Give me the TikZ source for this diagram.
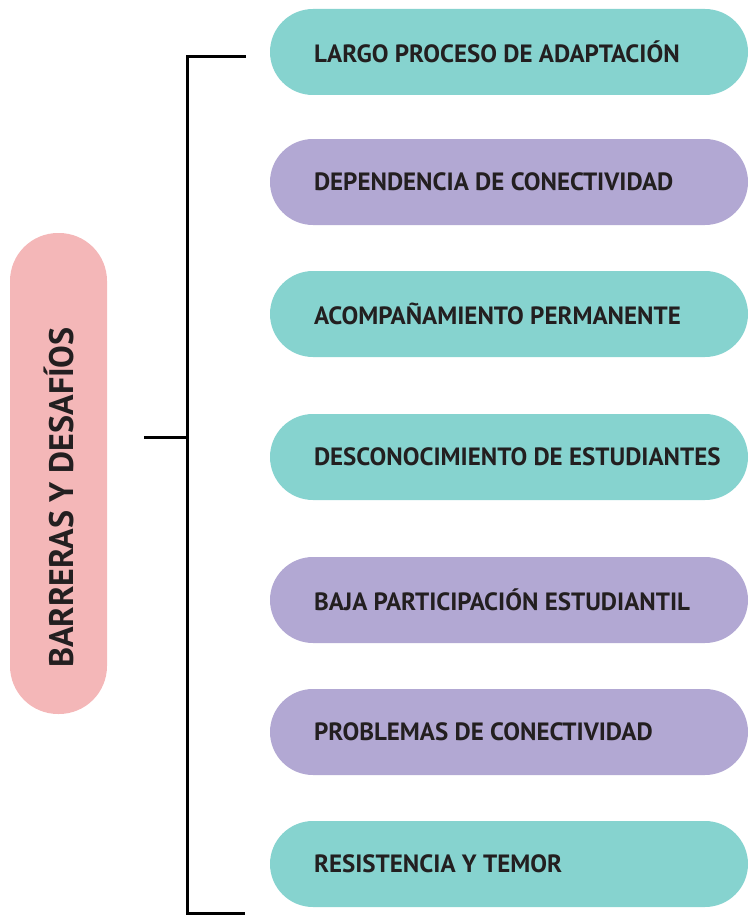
\documentclass[tikz,border=0pt]{standalone}
\usepackage{fontspec}
\setmainfont{PT Sans}
\usetikzlibrary{positioning}
\definecolor{teal1}{HTML}{86D3CF}
\definecolor{lila}{HTML}{B2A8D3}
\definecolor{rosa}{HTML}{F4B7B8}
\definecolor{tinta}{HTML}{231F20}

\begin{document}
\begin{tikzpicture}
[
    x=1pt, y=-1pt,
    pill/.style={fill=#1, draw=none, minimum width=478pt, minimum height=86pt, rounded corners=43pt, inner sep=0pt},
    itemtext/.style={anchor=west, text=tinta, font=\bfseries\fontsize{25}{28}\selectfont, inner sep=0pt},
    bracket/.style={line width=3pt, draw=black},
]
\useasboundingbox (0,0) rectangle (748,915);
\node [fill=rosa, rotate=90, minimum width=481pt, minimum height=97pt, rounded corners=48pt]
    (titulo) at (58.5,473.5) {};
\node [rotate=90, text=tinta, font=\bfseries\fontsize{34}{38}\selectfont]
    (titulotxt) at ([yshift=-24pt]titulo.center) {BARRERAS Y DESAFÍOS};

\node [pill=teal1] (p1) at (509,52)  {};
\node [pill=lila]  (p2) at (509,182) {};
\node [pill=teal1] (p3) at (509,314) {};
\node [pill=teal1] (p4) at (509,457) {};
\node [pill=lila]  (p5) at (509,600) {};
\node [pill=lila]  (p6) at (509,732) {};
\node [pill=teal1] (p7) at (509,864) {};

\node [itemtext, right=44pt of p1.west] (t1) {LARGO PROCESO DE ADAPTACIÓN};
\node [itemtext, right=44pt of p2.west] (t2) {DEPENDENCIA DE CONECTIVIDAD};
\node [itemtext, right=44pt of p3.west] (t3) {ACOMPAÑAMIENTO PERMANENTE};
\node [itemtext, right=44pt of p4.west] (t4) {DESCONOCIMIENTO DE ESTUDIANTES};
\node [itemtext, right=44pt of p5.west] (t5) {BAJA PARTICIPACIÓN ESTUDIANTIL};
\node [itemtext, right=44pt of p6.west] (t6) {PROBLEMAS DE CONECTIVIDAD};
\node [itemtext, right=44pt of p7.west] (t7) {RESISTENCIA Y TEMOR};

\coordinate (arriba) at (246,57);
\coordinate (abajo) at (245,913);
\coordinate (medio) at (144,437);
\draw [bracket] (arriba) -- ++(-59,0) |- (abajo);
\draw [bracket] (medio) -- ++(43,0);
\end{tikzpicture}
\end{document}
